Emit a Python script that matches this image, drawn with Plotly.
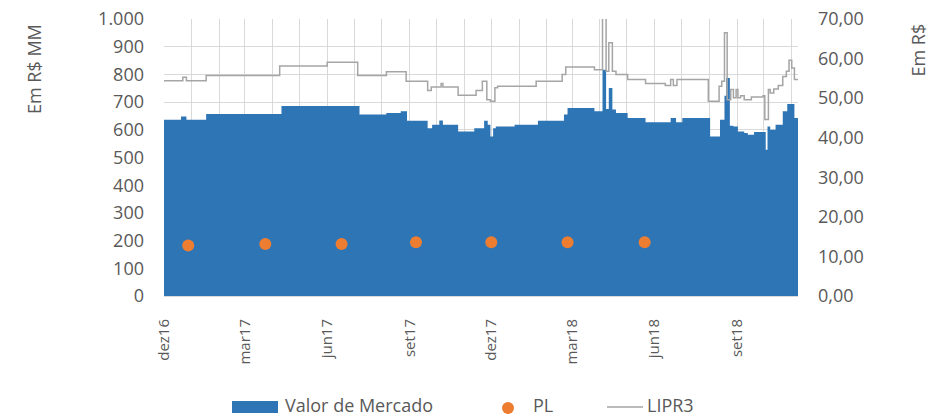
import plotly.graph_objects as go
import pandas as pd

# ---- Data ----
# Valor de Mercado (R$ MM) – dates where the value changes
mv_dates = ["2016-12-01", "2016-12-20", "2016-12-26", "2017-01-17", "2017-04-11",
            "2017-07-07", "2017-08-06", "2017-08-22", "2017-08-29", "2017-09-21",
            "2017-09-26", "2017-10-04", "2017-10-08", "2017-10-25", "2017-11-12",
            "2017-11-23", "2017-11-27", "2017-11-30", "2017-12-03", "2017-12-06",
            "2017-12-27", "2018-01-22", "2018-02-20", "2018-02-24", "2018-03-26",
            "2018-04-04", "2018-04-08", "2018-04-11", "2018-04-15", "2018-04-19",
            "2018-05-02", "2018-05-22", "2018-06-19", "2018-06-25", "2018-07-02",
            "2018-08-02", "2018-08-13", "2018-08-18", "2018-08-20", "2018-08-24",
            "2018-08-28", "2018-09-02", "2018-09-09", "2018-09-13", "2018-09-20",
            "2018-10-03", "2018-10-05", "2018-10-08", "2018-10-14", "2018-10-22",
            "2018-10-27", "2018-11-04", "2018-11-08"]
mv_values = [636, 648, 636, 657, 686,
             655, 661, 667, 633, 606,
             618, 634, 618, 594, 606,
             633, 618, 576, 606, 612,
             618, 633, 655, 679, 667,
             817, 675, 751, 673, 661,
             643, 627, 643, 627, 643,
             576, 636, 723, 787, 615,
             612, 594, 588, 582, 592,
             528, 612, 600, 618, 667,
             693, 643, 643]

# LIPR3 price (R$) – dates where the price changes
px_dates = ["2016-12-01", "2016-12-22", "2016-12-26", "2017-01-17", "2017-04-09",
            "2017-06-01", "2017-07-05", "2017-08-06", "2017-08-28", "2017-09-21",
            "2017-09-25", "2017-10-06", "2017-10-08", "2017-10-25", "2017-11-14",
            "2017-11-21", "2017-11-26", "2017-11-30", "2017-12-05", "2017-12-08",
            "2018-01-20", "2018-02-18", "2018-02-22", "2018-03-26", "2018-04-04",
            "2018-04-08", "2018-04-11", "2018-04-15", "2018-04-19", "2018-05-02",
            "2018-05-22", "2018-06-13", "2018-06-19", "2018-06-22", "2018-06-26",
            "2018-07-31", "2018-08-12", "2018-08-15", "2018-08-18", "2018-08-21",
            "2018-08-25", "2018-08-28", "2018-08-31", "2018-09-02", "2018-09-05",
            "2018-09-09", "2018-09-17", "2018-09-30", "2018-10-02", "2018-10-06",
            "2018-10-08", "2018-10-12", "2018-10-17", "2018-10-22", "2018-10-26",
            "2018-10-29", "2018-11-01", "2018-11-04", "2018-11-08"]
px_values = [54.4, 55.3, 54.4, 55.7, 58.1,
             59.1, 55.7, 56.7, 54.3, 51.9,
             52.8, 53.7, 52.8, 50.7, 51.9,
             54.3, 49.6, 49.2, 52.6, 53.0,
             54.3, 56.0, 57.9, 57.2, 71.0,
             56.8, 64.0, 56.8, 56.0, 54.7,
             53.7, 53.2, 54.7, 53.2, 54.7,
             49.2, 53.0, 54.3, 66.5, 49.6,
             52.2, 50.1, 52.2, 50.1, 50.6,
             49.6, 50.3, 50.6, 44.6, 52.2,
             51.3, 52.3, 53.2, 55.5, 56.8,
             59.6, 57.6, 54.7, 54.7]

# PL (R$ MM)
pl_dates = ["2016-12-28", "2017-03-24", "2017-06-17", "2017-09-08",
            "2017-12-01", "2018-02-24", "2018-05-21"]
pl_values = [182, 188, 188, 194, 194, 194, 194]

# X tick labels (monthly gridlines, quarterly labels)
tick_dates = pd.date_range("2016-12-01", "2018-11-01", freq="MS")
quarter_labels = {"2016-12": "dez16", "2017-03": "mar17", "2017-06": "jun17",
                  "2017-09": "set17", "2017-12": "dez17", "2018-03": "mar18",
                  "2018-06": "jun18", "2018-09": "set18"}
tick_text = [quarter_labels.get(d.strftime("%Y-%m"), "") for d in tick_dates]

left_ticks = list(range(0, 1001, 100))
right_ticks = list(range(0, 71, 10))

# ---- Styles ----
BLUE = "#2E75B6"
ORANGE = "#ED7D31"
GREY = "#A5A5A5"
GRID = "#D9D9D9"
TXT = "#595959"
FONT = "Open Sans"

fig = go.Figure()

fig.add_trace(go.Scatter(
    x=mv_dates, y=mv_values, name="Valor de Mercado",
    mode="lines", line=dict(width=0, shape="hv", color=BLUE),
    fill="tozeroy", fillcolor=BLUE, yaxis="y", showlegend=False))

fig.add_trace(go.Scatter(
    x=pl_dates, y=pl_values, name="PL", mode="markers",
    marker=dict(size=12, color=ORANGE), yaxis="y", showlegend=False))

fig.add_trace(go.Scatter(
    x=px_dates, y=px_values, name="LIPR3", mode="lines",
    line=dict(width=1.5, color=GREY, shape="hv"), yaxis="y2", showlegend=False))

# The page body adds an 8px margin, so the figure is 8px smaller
# and every target pixel position is shifted by -8.
OFF = 8
W, H = 938 - OFF, 416 - OFF
PLOT_L, PLOT_R, PLOT_T, PLOT_B = 164, 798, 19, 296   # target pixels
L = PLOT_L - OFF
T = PLOT_T - OFF
R = W - (PLOT_R - OFF)
B = H - (PLOT_B - OFF)
pw, ph = W - L - R, H - T - B


def px2paper_x(px):
    return (px - OFF - L) / pw


def px2paper_y(py):
    return (H - B - (py - OFF)) / ph


fig.update_layout(
    width=W, height=H, autosize=False,
    margin=dict(l=L, r=R, t=T, b=B, pad=0, autoexpand=False),
    paper_bgcolor="white", plot_bgcolor="white",
    separators=",.",
    font=dict(family=FONT, color=TXT, size=18),
    xaxis=dict(
        type="date", range=["2016-12-01", "2018-11-08"],
        tickmode="array", tickvals=tick_dates, ticktext=tick_text,
        tickangle=-90, tickfont=dict(size=15, color=TXT, family=FONT),
        showgrid=True, gridcolor=GRID, gridwidth=1,
        showline=True, linecolor=GRID, linewidth=1,
        ticks="", ticklabelstandoff=16, zeroline=False, automargin=False,
        ticklabeloverflow="allow",
    ),
    yaxis=dict(
        range=[0, 1000], tickmode="array", tickvals=left_ticks,
        tickformat=",d", tickfont=dict(size=18, color=TXT, family=FONT),
        showgrid=True, gridcolor=GRID, gridwidth=1, zeroline=False,
        showline=False, ticks="", ticklabelstandoff=19, automargin=False,
        ticklabeloverflow="allow",
    ),
    yaxis2=dict(
        range=[0, 70], tickmode="array", tickvals=right_ticks,
        tickformat=".2f", tickfont=dict(size=18, color=TXT, family=FONT),
        overlaying="y", side="right", showgrid=False, zeroline=False,
        showline=False, ticks="", ticklabelstandoff=19, automargin=False,
        ticklabeloverflow="allow",
    ),
    showlegend=False,
)

# Axis titles (top-aligned, as in the reference)
fig.add_annotation(text="Em R$ MM", xref="paper", yref="paper",
                   x=px2paper_x(34), y=px2paper_y(22), xanchor="center", yanchor="top",
                   textangle=-90, showarrow=False,
                   font=dict(size=18, color=TXT, family=FONT))
fig.add_annotation(text="Em R$", xref="paper", yref="paper",
                   x=px2paper_x(917), y=px2paper_y(22), xanchor="center", yanchor="top",
                   textangle=-90, showarrow=False,
                   font=dict(size=18, color=TXT, family=FONT))

# Custom legend
ly = 405
fig.add_shape(type="rect", xref="paper", yref="paper",
              x0=px2paper_x(232), x1=px2paper_x(278),
              y0=px2paper_y(401), y1=px2paper_y(413),
              fillcolor=BLUE, line=dict(width=0))
fig.add_annotation(text="Valor de Mercado", xref="paper", yref="paper",
                   x=px2paper_x(283), y=px2paper_y(ly), xanchor="left", yanchor="middle",
                   showarrow=False, font=dict(size=18, color=TXT, family=FONT))
fig.add_shape(type="circle", xref="paper", yref="paper",
              x0=px2paper_x(502), x1=px2paper_x(514),
              y0=px2paper_y(402), y1=px2paper_y(414),
              fillcolor=ORANGE, line=dict(width=0))
fig.add_annotation(text="PL", xref="paper", yref="paper",
                   x=px2paper_x(531), y=px2paper_y(ly), xanchor="left", yanchor="middle",
                   showarrow=False, font=dict(size=18, color=TXT, family=FONT))
fig.add_shape(type="line", xref="paper", yref="paper",
              x0=px2paper_x(607), x1=px2paper_x(643),
              y0=px2paper_y(407), y1=px2paper_y(407),
              line=dict(color=GREY, width=1.5))
fig.add_annotation(text="LIPR3", xref="paper", yref="paper",
                   x=px2paper_x(645), y=px2paper_y(ly), xanchor="left", yanchor="middle",
                   showarrow=False, font=dict(size=18, color=TXT, family=FONT))

fig.write_html("out.html")
